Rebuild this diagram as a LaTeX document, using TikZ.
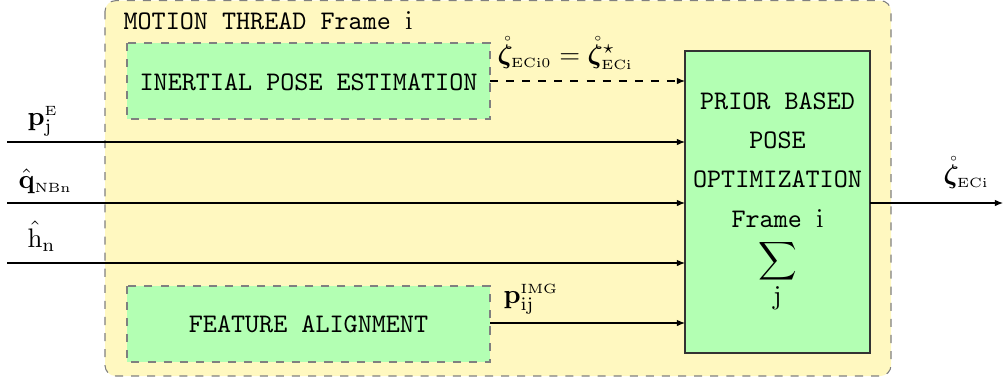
\documentclass[tikz,border=0pt]{standalone}
\usepackage{amsmath,amssymb,bm}
\usetikzlibrary{arrows.meta}
\definecolor{threadyellow}{RGB}{255,248,192}
\definecolor{boxgreen}{RGB}{179,255,179}
\tikzset{
  region/.style={draw=gray, dashed, fill=threadyellow, rounded corners=4pt},
  subbox/.style={draw=gray, dashed, fill=boxgreen, inner sep=0pt},
  mainbox/.style={draw=black!80, fill=boxgreen, inner sep=0pt},
  lbl/.style={inner sep=0pt, anchor=base west},
  tt/.style={inner sep=0pt, anchor=base, font=\ttfamily},
  flow/.style={-{Latex[length=3pt,width=2.4pt]}, black},
}
\begin{document}
\begin{tikzpicture}[x=0.373pt,y=-0.373pt]
\useasboundingbox (0,0) rectangle (1003,383);
% thread region
\draw[region] (105,0.6) rectangle (891,376);
\node[inner sep=0pt, anchor=base west, font=\ttfamily] (title) at (123,29) {MOTION THREAD Frame $\mathrm{i}$};
% sub boxes
\path[subbox] (127,43) rectangle (490,119);
\node[inner sep=0pt] (ipe) at (308.5,81) {};
\node[tt] (ipet) at (308.5,90) {INERTIAL POSE ESTIMATION};
\path[subbox] (127,286) rectangle (490,362);
\node[inner sep=0pt] (fa) at (308.5,324) {};
\node[tt] (fat) at (308.5,332) {FEATURE ALIGNMENT};
\coordinate (ipeR) at (490,81);
\coordinate (faR) at (490,323);
% prior box
\path[mainbox] (685,51) rectangle (870,353);
\coordinate (pbL1) at (685,81);
\coordinate (pbL2) at (685,142);
\coordinate (pbL3) at (685,203);
\coordinate (pbL4) at (685,263);
\coordinate (pbL5) at (685,323);
\coordinate (pbR) at (870,203);
\node[tt] (pb1) at (777.5,109) {PRIOR BASED};
\node[tt] (pb2) at (777.5,148) {POSE};
\node[tt] (pb3) at (777.5,187) {OPTIMIZATION};
\node[tt] (pb4) at (777.5,227) {Frame $\mathrm{i}$};
\node[inner sep=0pt] (pb5) at (777.5,261.5) {$\displaystyle\sum$};
\node[inner sep=0pt, anchor=base] (pb6) at (777.5,304) {$\mathrm{j}$};
% inputs
\coordinate (in1) at (7,142);
\coordinate (in2) at (7,203);
\coordinate (in3) at (7,263);
\coordinate (out) at (1003,203);
\node[lbl] (lp) at (27,125) {$\mathbf{p}_{\mathrm{j}}^{\scriptscriptstyle\mathrm{E}}$};
\node[lbl] (lq) at (18,188) {$\hat{\mathbf{q}}_{\scriptscriptstyle\mathrm{NBn}}$};
\node[lbl] (lh) at (27,247) {$\hat{\mathrm{h}}_{\mathrm{n}}$};
\node[lbl] (lz) at (497,63) {$\mathring{\bm{\zeta}}_{\scriptscriptstyle\mathrm{ECi0}}=\mathring{\bm{\zeta}}^{\star}_{\scriptscriptstyle\mathrm{ECi}}$};
\node[lbl] (limg) at (503,303) {$\mathbf{p}_{\mathrm{ij}}^{\scriptscriptstyle\mathrm{IMG}}$};
\node[lbl] (lout) at (943,183) {$\mathring{\bm{\zeta}}_{\scriptscriptstyle\mathrm{ECi}}$};
% connectors
\draw[flow, dashed] (ipeR) -- (pbL1);
\draw[flow] (in1) -- (pbL2);
\draw[flow] (in2) -- (pbL3);
\draw[flow] (in3) -- (pbL4);
\draw[flow] (faR) -- (pbL5);
\draw[flow] (pbR) -- (out);
\end{tikzpicture}
\end{document}
